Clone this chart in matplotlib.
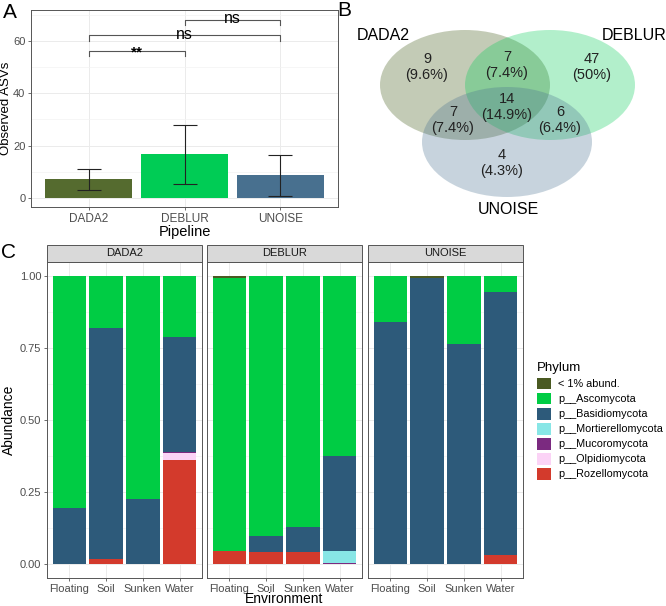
import matplotlib
matplotlib.use("Agg")
import matplotlib.pyplot as plt
import numpy as np
from matplotlib.patches import Ellipse, Rectangle

plt.rcParams["font.family"] = ["Liberation Sans", "DejaVu Sans"]

W, H = 666, 606

# ---- data ----
pipelines = ["DADA2", "DEBLUR", "UNOISE"]
asv_mean = [7.0, 16.7, 8.5]
asv_low = [3.0, 5.3, 0.8]
asv_high = [10.8, 28.0, 16.2]
pipe_colors = ["#556b2f", "#00cc55", "#48708f"]

# significance brackets: (left idx, right idx, y, label)
sig_pairs = [(0, 1, 56.3, "**"), (0, 2, 62.3, "ns"), (1, 2, 68.3, "ns")]

# venn region counts
venn_only = {"DADA2": 9, "DEBLUR": 47, "UNOISE": 4}
venn_pair = {"DADA2&DEBLUR": 7, "DADA2&UNOISE": 7, "DEBLUR&UNOISE": 6}
venn_all = 14

environments = ["Floating", "Soil", "Sunken", "Water"]
phyla = ["< 1% abund.", "p__Ascomycota", "p__Basidiomycota", "p__Mortierellomycota",
         "p__Mucoromycota", "p__Olpidiomycota", "p__Rozellomycota"]
phyla_colors = ["#4a5a22", "#00cc44", "#2d5a7a", "#88e6e6", "#7b2a80", "#fbd3f6", "#d33a2c"]

# rows follow phyla order, columns follow environments
dada2_abund = [
    [0.0, 0.0, 0.0, 0.0],
    [0.805, 0.18, 0.775, 0.21],
    [0.195, 0.805, 0.225, 0.40],
    [0.0, 0.0, 0.0, 0.0],
    [0.0, 0.0, 0.0, 0.005],
    [0.0, 0.0, 0.0, 0.025],
    [0.0, 0.015, 0.0, 0.36],
]
deblur_abund = [
    [0.005, 0.0, 0.0, 0.0],
    [0.95, 0.903, 0.873, 0.625],
    [0.0, 0.057, 0.087, 0.33],
    [0.0, 0.0, 0.0, 0.042],
    [0.0, 0.0, 0.0, 0.003],
    [0.0, 0.0, 0.0, 0.0],
    [0.045, 0.04, 0.04, 0.0],
]
unoise_abund = [
    [0.0, 0.004, 0.0, 0.0],
    [0.16, 0.0, 0.235, 0.055],
    [0.84, 0.996, 0.765, 0.915],
    [0.0, 0.0, 0.0, 0.0],
    [0.0, 0.0, 0.0, 0.0],
    [0.0, 0.0, 0.0, 0.0],
    [0.0, 0.0, 0.0, 0.03],
]
abund_by_pipeline = [dada2_abund, deblur_abund, unoise_abund]


def px_axes(fig, x0, y0, x1, y1):
    return fig.add_axes([x0 / W, 1 - y1 / H, (x1 - x0) / W, (y1 - y0) / H])


def bw_frame(ax):
    for s in ax.spines.values():
        s.set_color("#555555")
        s.set_linewidth(0.7)
    ax.tick_params(length=2.5, width=0.6, color="#555555", labelcolor="#4d4d4d", pad=1.5)


fig = plt.figure(figsize=(W / 100, H / 100), dpi=100)

# ---- panel A ----
axA = px_axes(fig, 31, 10, 338, 207)
x = np.arange(1, len(pipelines) + 1)
axA.bar(x, asv_mean, width=0.9, color=pipe_colors, zorder=2)
yerr = [np.array(asv_mean) - np.array(asv_low), np.array(asv_high) - np.array(asv_mean)]
axA.errorbar(x, asv_mean, yerr=yerr, fmt="none", ecolor="#222222", elinewidth=0.8,
             capsize=8.5, capthick=0.8, zorder=3)
for i, j, yb, lab in sig_pairs:
    axA.plot([x[i], x[i], x[j], x[j]], [yb - 2.1, yb, yb, yb - 2.1], color="#555555", lw=0.8, zorder=3)
    if lab == "**":
        axA.text((x[i] + x[j]) / 2, yb - 0.6, lab, ha="center", va="center", fontsize=11,
                 fontweight="bold", zorder=4)
    else:
        axA.text((x[i] + x[j]) / 2, yb + 0.3, lab, ha="center", va="center", fontsize=11.5, zorder=4)
axA.set_xlim(0.4, 3.6)
axA.set_ylim(-3.6, 72)
axA.set_yticks([0, 20, 40, 60])
axA.set_yticks([10, 30, 50, 70], minor=True)
axA.set_xticks(x)
axA.set_xticklabels(pipelines, fontsize=8.5)
axA.tick_params(axis="y", labelsize=8)
axA.tick_params(which="minor", length=0)
axA.grid(True, which="major", color="#ebebeb", lw=0.7, zorder=0)
axA.grid(True, which="minor", axis="y", color="#f3f3f3", lw=0.5, zorder=0)
axA.set_axisbelow(True)
bw_frame(axA)
axA.set_xlabel("Pipeline", fontsize=10.5, labelpad=0)
fig.text(6.5 / W, 1 - 108 / H, "Observed ASVs", rotation=90, fontsize=9.5,
         ha="center", va="center")
fig.text(10 / W, 1 - 12 / H, "A", fontsize=15, ha="center", va="center")

# ---- panel B (venn) ----
axB = px_axes(fig, 330, 0, 666, 240)
axB.set_xlim(330, 666)
axB.set_ylim(240, 0)
axB.axis("off")
ell_w, ell_h = 170, 110
centers = {"DADA2": (465, 85), "DEBLUR": (550, 85), "UNOISE": (507, 142)}
alphas = {"DADA2": 0.35, "DEBLUR": 0.3, "UNOISE": 0.3}
for name, col in zip(pipelines, pipe_colors):
    axB.add_patch(Ellipse(centers[name], ell_w, ell_h, facecolor=col, alpha=alphas[name],
                          edgecolor="none"))
total = sum(venn_only.values()) + sum(venn_pair.values()) + venn_all


def pct(n):
    s = f"{100 * n / total:.1f}"
    if s.endswith(".0"):
        s = s[:-2]
    return f"{n}\n({s}%)"


region_pos = {
    "DADA2": (427, 67), "DEBLUR": (592, 67), "UNOISE": (502, 163),
    "DADA2&DEBLUR": (507, 65), "DADA2&UNOISE": (453, 120), "DEBLUR&UNOISE": (560, 120),
}
for k, v in list(venn_only.items()) + list(venn_pair.items()):
    axB.text(*region_pos[k], pct(v), ha="center", va="center", fontsize=10.5,
             color="#222222", linespacing=1.15)
axB.text(507, 107, pct(venn_all), ha="center", va="center", fontsize=10.5,
         color="#222222", linespacing=1.15)
axB.text(383, 35, "DADA2", ha="center", va="center", fontsize=11.5)
axB.text(634, 35, "DEBLUR", ha="center", va="center", fontsize=11.5)
axB.text(508, 210, "UNOISE", ha="center", va="center", fontsize=11.5)
fig.text(337 / W, 1 - 11 / H, "B", fontsize=15, ha="left", va="center")

# ---- panel C ----
panel_x = [(47, 202), (207, 362), (368, 523)]
xe = np.arange(1, len(environments) + 1)
for p, (pipe, (x0, x1)) in enumerate(zip(pipelines, panel_x)):
    ax = px_axes(fig, x0, 262, x1, 578)
    data = np.array(abund_by_pipeline[p])
    bottom = np.zeros(len(environments))
    for k in range(len(phyla) - 1, -1, -1):
        ax.bar(xe, data[k], width=0.9, bottom=bottom, color=phyla_colors[k],
               label=phyla[k], zorder=2)
        bottom += data[k]
    ax.set_xlim(0.4, 4.6)
    ax.set_ylim(-0.05, 1.05)
    ax.set_xticks(xe)
    ax.set_yticks([0, 0.25, 0.5, 0.75, 1.0])
    ax.set_yticks([0.125, 0.375, 0.625, 0.875], minor=True)
    ax.grid(True, which="major", color="#ebebeb", lw=0.7, zorder=0)
    ax.grid(True, which="minor", axis="y", color="#f3f3f3", lw=0.5, zorder=0)
    ax.set_axisbelow(True)
    bw_frame(ax)
    ax.tick_params(which="minor", length=0)
    ax.set_xticklabels(environments, fontsize=8)
    if p == 0:
        ax.set_yticklabels(["0.00", "0.25", "0.50", "0.75", "1.00"], fontsize=8)
        ax.set_ylabel("Abundance", fontsize=10, labelpad=3)
    else:
        ax.set_yticklabels([])
        ax.tick_params(axis="y", length=0)
    if p == 1:
        ax.set_xlabel("Environment", fontsize=10, labelpad=-1)
    strip_h = 17 / 316
    ax.add_patch(Rectangle((0, 1), 1, strip_h, transform=ax.transAxes, clip_on=False,
                           facecolor="#d9d9d9", edgecolor="#555555", lw=0.7))
    ax.text(0.5, 1 + strip_h / 2, pipe, transform=ax.transAxes, ha="center", va="center",
            fontsize=8, color="#1a1a1a")
    if p == 2:
        handles, labels = ax.get_legend_handles_labels()
        leg = fig.legend(handles[::-1], labels[::-1], title="Phylum", loc="upper left",
                         bbox_to_anchor=(533 / W, 1 - 358 / H), frameon=False, fontsize=7.8,
                         title_fontsize=9.5, handlelength=1.3, handleheight=1.3,
                         handletextpad=0.6, labelspacing=0.3, borderaxespad=0)
        leg._legend_box.align = "left"

fig.text(8 / W, 1 - 253 / H, "C", fontsize=15, ha="center", va="center")

fig.savefig("out.png", dpi=100)
